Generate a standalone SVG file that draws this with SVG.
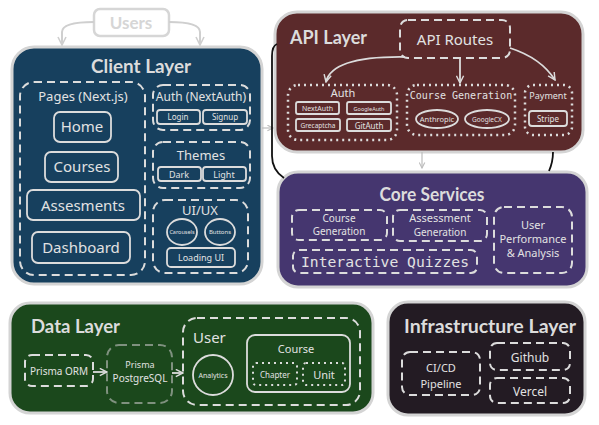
<svg xmlns="http://www.w3.org/2000/svg" width="599" height="425" viewBox="0 0 599 425">
<defs>
<style>
.layer{stroke:#d4d4d4;stroke-width:3}
.title{font-family:Lato,"Open Sans",sans-serif;font-weight:bold;fill:#dcdcdc;font-size:18px}
.t{font-family:"Noto Sans","DejaVu Sans",sans-serif;fill:#e2e2e2;text-anchor:middle}
.m{font-family:"DejaVu Sans Mono","Liberation Mono",monospace;fill:#e2e2e2;text-anchor:middle}
.dash{fill:none;stroke:#dcdcdc;stroke-width:2;stroke-dasharray:8 5}
.dot{fill:none;stroke:#dcdcdc;stroke-width:2.5;stroke-dasharray:2 4}
.solid{fill:none;stroke:#dcdcdc;stroke-width:1.8}
.conn{fill:none;stroke:#dcdcdc;stroke-width:1.8}
</style>
<marker id="ah" viewBox="0 0 10 10" refX="9" refY="5" markerWidth="7" markerHeight="7" orient="auto" markerUnits="userSpaceOnUse">
<path d="M1,1 L9,5 L1,9" fill="none" stroke="#bdbdbd" stroke-width="1.6"/>
</marker>
<marker id="ahw" viewBox="0 0 10 10" refX="9" refY="5" markerWidth="9" markerHeight="9" orient="auto" markerUnits="userSpaceOnUse">
<path d="M1,1 L9,5 L1,9" fill="none" stroke="#dcdcdc" stroke-width="1.6"/>
</marker>
<marker id="ahg" viewBox="0 0 10 10" refX="9" refY="5" markerWidth="10" markerHeight="10" orient="auto" markerUnits="userSpaceOnUse">
<path d="M1,1 L9,5 L1,9" fill="none" stroke="#cfcfcf" stroke-width="1.6"/>
</marker>
</defs>
<rect width="599" height="425" fill="#ffffff"/>

<g id="users">
<rect x="94" y="9" width="75" height="27" rx="6" fill="#ffffff" stroke="#d6d6d6" stroke-width="2.5"/>
<text x="131" y="29" class="title" style="fill:#d6d6d6;font-size:17px" text-anchor="middle">Users</text>
</g>

<g id="client-layer">
<rect x="12" y="47" width="250" height="237" rx="22" fill="#17405e" class="layer"/>
<text x="141" y="73" class="title" text-anchor="middle" textLength="100" lengthAdjust="spacingAndGlyphs">Client Layer</text>
<g id="pages">
<rect x="20" y="82" width="125" height="193" rx="14" class="dash"/>
<text x="83" y="101" class="t" font-size="13">Pages (Next.js)</text>
<rect x="54" y="112" width="57" height="30" rx="6" class="solid"/>
<text x="82" y="132" class="t" font-size="15">Home</text>
<rect x="45" y="152" width="73" height="30" rx="6" class="solid"/>
<text x="82" y="172" class="t" font-size="15">Courses</text>
<rect x="27" y="190" width="113" height="30" rx="6" class="solid"/>
<text x="83" y="211" class="t" font-size="15">Assesments</text>
<rect x="32" y="232" width="98" height="31" rx="6" class="solid"/>
<text x="81" y="253" class="t" font-size="15">Dashboard</text>
</g>
<g id="client-auth">
<rect x="153" y="85" width="97" height="45" rx="10" class="dash"/>
<text x="201" y="101" class="t" font-size="12">Auth (NextAuth)</text>
<rect x="157" y="110" width="43" height="14" rx="3" class="solid"/>
<text x="178" y="120" class="t" font-size="8">Login</text>
<rect x="203" y="110" width="44" height="14" rx="3" class="solid"/>
<text x="225" y="120" class="t" font-size="8">Signup</text>
</g>
<g id="themes">
<rect x="153" y="142" width="97" height="46" rx="10" class="dash"/>
<text x="201" y="160" class="t" font-size="13">Themes</text>
<rect x="158" y="167" width="43" height="14" rx="3" class="solid"/>
<text x="179" y="178" class="t" font-size="9">Dark</text>
<rect x="203" y="167" width="43" height="14" rx="3" class="solid"/>
<text x="224" y="178" class="t" font-size="9">Light</text>
</g>
<g id="uiux">
<rect x="153" y="200" width="95" height="73" rx="12" class="dash"/>
<text x="200" y="215" class="t" font-size="13">UI/UX</text>
<ellipse cx="182" cy="232" rx="15" ry="13" class="solid"/>
<text x="182" y="234" class="t" font-size="5.5">Carousels</text>
<ellipse cx="220" cy="232" rx="15" ry="13" class="solid"/>
<text x="220" y="234" class="t" font-size="6">Buttons</text>
<rect x="167" y="248" width="68" height="19" rx="4" class="solid"/>
<text x="201" y="261" class="t" font-size="9">Loading UI</text>
</g>
</g>

<g id="api-layer">
<rect x="275" y="12" width="308" height="140" rx="22" fill="#5b2a2b" class="layer"/>
<text x="290" y="44" class="title" textLength="77" lengthAdjust="spacingAndGlyphs">API Layer</text>
<g id="api-routes">
<rect x="400" y="20" width="110" height="38" rx="8" class="dash"/>
<text x="455" y="45" class="t" font-size="15">API Routes</text>
</g>
<g id="api-auth">
<rect x="288" y="85" width="109" height="55" rx="10" class="dot"/>
<text x="343" y="97" class="t" font-size="11">Auth</text>
<rect x="296" y="102" width="43" height="12" rx="2" class="solid"/>
<text x="317.5" y="111" class="t" font-size="7">NextAuth</text>
<rect x="347" y="102" width="44" height="12" rx="2" class="solid"/>
<text x="369" y="110.5" class="t" font-size="5.5">GoogleAuth</text>
<rect x="296" y="119" width="44" height="12" rx="2" class="solid"/>
<text x="318" y="128" class="t" font-size="6.5">Grecaptcha</text>
<rect x="347" y="119" width="44" height="12" rx="2" class="solid"/>
<text x="369" y="128.5" class="t" font-size="8">GitAuth</text>
</g>
<g id="api-course-generation">
<rect x="407" y="85" width="108" height="50" rx="10" class="dot"/>
<text x="461" y="99" class="m" font-size="10">Course Generation</text>
<ellipse cx="437" cy="119" rx="21" ry="9" class="solid"/>
<text x="437" y="121.5" class="t" font-size="7.5">Anthropic</text>
<ellipse cx="487" cy="119" rx="22" ry="9" class="solid"/>
<text x="487" y="121.5" class="t" font-size="6.5">GoogleCX</text>
</g>
<g id="payment">
<rect x="525" y="85" width="47" height="50" rx="8" class="dot"/>
<text x="548" y="99" class="t" font-size="9">Payment</text>
<rect x="529" y="111" width="38" height="15" rx="3" class="solid"/>
<text x="548" y="121.5" class="t" font-size="8">Stripe</text>
</g>
</g>

<g id="core-services">
<rect x="278" y="172" width="309" height="115" rx="20" fill="#45366f" class="layer"/>
<text x="432" y="201" class="title" text-anchor="middle" textLength="105" lengthAdjust="spacingAndGlyphs">Core Services</text>
<g id="core-course-generation">
<rect x="292" y="210" width="95" height="30" rx="7" class="dash"/>
<text x="339" y="222" class="t" font-size="10">Course</text>
<text x="339" y="235" class="t" font-size="10">Generation</text>
</g>
<g id="assessment-generation">
<rect x="393" y="210" width="94" height="31" rx="7" class="dash"/>
<text x="440" y="222" class="t" font-size="11">Assessment</text>
<text x="440" y="236" class="t" font-size="10">Generation</text>
</g>
<g id="user-performance">
<rect x="494" y="207" width="78" height="66" rx="10" class="dash"/>
<text x="533" y="229" class="t" font-size="11">User</text>
<text x="533" y="243" class="t" font-size="11">Performance</text>
<text x="533" y="257" class="t" font-size="11">&amp; Analysis</text>
</g>
<g id="interactive-quizzes">
<rect x="293" y="250" width="184" height="23" rx="6" class="dash"/>
<text x="385" y="267" class="m" font-size="14.7">Interactive Quizzes</text>
</g>
</g>

<g id="data-layer">
<rect x="10" y="303" width="363" height="110" rx="20" fill="#1b481c" class="layer"/>
<text x="31" y="333" class="title" textLength="89" lengthAdjust="spacingAndGlyphs">Data Layer</text>
<g id="prisma-orm">
<rect x="25" y="355" width="68" height="31" rx="7" class="dash"/>
<text x="59" y="375" class="t" font-size="10">Prisma ORM</text>
</g>
<g id="prisma-postgresql">
<rect x="107" y="345" width="65" height="58" rx="12" fill="none" stroke="#7f917f" stroke-width="2" stroke-dasharray="8 5"/>
<text x="140" y="368" class="t" font-size="9">Prisma</text>
<text x="140" y="382" class="t" font-size="10">PostgreSQL</text>
</g>
<g id="user-model">
<rect x="183" y="318" width="177" height="87" rx="14" class="dash"/>
<text x="193" y="343" class="t" font-size="15" style="text-anchor:start">User</text>
<circle cx="213" cy="375" r="20" class="solid"/>
<text x="213" y="377.5" class="t" font-size="7">Analytics</text>
</g>
<g id="course-model">
<rect x="247" y="335" width="103" height="57" rx="8" class="solid"/>
<text x="296" y="353" class="t" font-size="11">Course</text>
<rect x="253" y="363" width="44" height="22" rx="3" class="dot" style="stroke-width:2"/>
<text x="275" y="378" class="t" font-size="8">Chapter</text>
<rect x="303" y="363" width="42" height="22" rx="3" class="dot" style="stroke-width:2"/>
<text x="324" y="379" class="t" font-size="11">Unit</text>
</g>
</g>

<g id="infrastructure-layer">
<rect x="388" y="302" width="197" height="113" rx="20" fill="#231b23" class="layer"/>
<text x="490" y="333" class="title" text-anchor="middle" textLength="172" lengthAdjust="spacingAndGlyphs">Infrastructure Layer</text>
<g id="cicd">
<rect x="402" y="352" width="78" height="43" rx="8" class="dash"/>
<text x="441" y="372" class="t" font-size="11">CI/CD</text>
<text x="441" y="388" class="t" font-size="11">Pipeline</text>
</g>
<g id="github">
<rect x="490" y="343" width="80" height="27" rx="7" class="dash"/>
<text x="530" y="362" class="t" font-size="12">Github</text>
</g>
<g id="vercel">
<rect x="490" y="378" width="80" height="25" rx="7" class="dash"/>
<text x="530" y="396" class="t" font-size="12">Vercel</text>
</g>
</g>

<g id="connectors">
<path d="M94 22 Q62 22 62 32 L62 45" fill="none" stroke="#cfcfcf" stroke-width="2" marker-end="url(#ahg)"/>
<path d="M169 22 Q200 22 200 32 L200 45" fill="none" stroke="#cfcfcf" stroke-width="2" marker-end="url(#ahg)"/>
<path d="M262 128 L273 128" fill="none" stroke="#bdbdbd" stroke-width="1.2" marker-end="url(#ah)"/>
<path d="M405 57 Q332 56 326 82" class="conn" marker-end="url(#ahw)"/>
<path d="M460 58 L460 83" class="conn" marker-end="url(#ahw)"/>
<path d="M510 48 Q541 58 555 80" class="conn" marker-end="url(#ahw)"/>
<path d="M422 152 L422 168" fill="none" stroke="#bdbdbd" stroke-width="1.2" marker-end="url(#ah)"/>
<path d="M277 44 Q272 46 272 56 L272 156 Q272 170 284 178" fill="none" stroke="#111111" stroke-width="1.8"/>
<path d="M553 152 Q553 162 549 171" fill="none" stroke="#111111" stroke-width="1.8"/>
<path d="M93 372 L107 372" class="conn" marker-end="url(#ahw)"/>
<path d="M172 373 L183 373" class="conn" marker-end="url(#ahw)"/>
</g>
</svg>
